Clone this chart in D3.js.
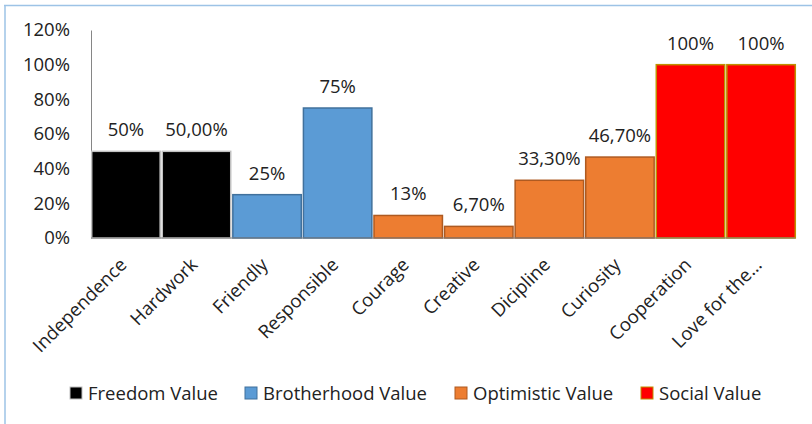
<!DOCTYPE html>
<html>
<head>
<meta charset="utf-8">
<script src="https://cdn.jsdelivr.net/npm/d3@7"></script>
<style>
  body { margin: 0; background: #fff; }
  svg { display: block; font-family: "Open Sans", Lato, sans-serif; }
</style>
</head>
<body>
<svg width="812" height="424"></svg>
<script>
var categories = ['Independence', 'Hardwork', 'Friendly', 'Responsible', 'Courage', 'Creative', 'Dicipline', 'Curiosity', 'Cooperation', 'Love for the...']
var values = [50, 50, 25, 75, 13, 6.7, 33.3, 46.7, 100, 100]
var valueLabels = ['50%', '50,00%', '25%', '75%', '13%', '6,70%', '33,30%', '46,70%', '100%', '100%']
var groups = ['Freedom Value', 'Freedom Value', 'Brotherhood Value', 'Brotherhood Value', 'Optimistic Value', 'Optimistic Value', 'Optimistic Value', 'Optimistic Value', 'Social Value', 'Social Value']
var seriesNames = ['Freedom Value', 'Brotherhood Value', 'Optimistic Value', 'Social Value']
var yTicks = [0, 20, 40, 60, 80, 100, 120]

var svg = d3.select('svg')
var margin = ({top: 30, right: 16, bottom: 186, left: 91})
var width = 812, height = 424
var font = '"Open Sans", sans-serif'
var fs = '18.5px'

var x = d3.scaleBand()
    .domain(d3.range(categories.length))
    .range([margin.left, width - margin.right])
    .paddingInner(0.03)
    .paddingOuter(0.01)

var y = d3.scaleLinear()
    .domain([0, 120])
    .range([238, 30])

var fill = d3.scaleOrdinal().domain(seriesNames).range(['#000000', '#5b9bd5', '#ed7d31', '#ff0000'])
var stroke = d3.scaleOrdinal().domain(seriesNames).range(['#c0c0c0', '#41719c', '#ae5a21', '#bf9000'])

// frame (light blue border at top and left)
svg.append('line').attr('x1', 4).attr('x2', width).attr('y1', 5.5).attr('y2', 5.5)
    .attr('stroke', '#9dc3e6').attr('stroke-width', 1.5)
svg.append('line').attr('x1', 5).attr('x2', 5).attr('y1', 5).attr('y2', height)
    .attr('stroke', '#9dc3e6').attr('stroke-width', 1.5)

// y axis
svg.append('g')
    .attr('transform', `translate(${margin.left},0)`)
    .call(d3.axisLeft(y).tickValues(yTicks).tickFormat(d => d + '%').tickSize(0).tickPadding(21))
    .call(g => g.select('.domain').attr('stroke', '#868686'))
    .call(g => g.selectAll('text').attr('font-size', fs).attr('fill', '#222').attr('font-family', font))

// bars
svg.append('g').selectAll('rect')
    .data(values)
    .enter().append('rect')
        .attr('x', (d, i) => x(i))
        .attr('y', d => y(d))
        .attr('width', x.bandwidth())
        .attr('height', d => y(0) - y(d))
        .attr('fill', (d, i) => fill(groups[i]))
        .attr('stroke', (d, i) => stroke(groups[i]))
        .attr('stroke-width', 1.5)

// x axis line
svg.append('line')
    .attr('x1', margin.left).attr('x2', x(categories.length - 1) + x.bandwidth())
    .attr('y1', y(0)).attr('y2', y(0))
    .attr('stroke', '#7f7f7f').attr('stroke-width', 1)

// value labels
svg.append('g').selectAll('text')
    .data(values)
    .enter().append('text')
        .attr('x', (d, i) => x(i) + x.bandwidth() / 2)
        .attr('y', d => y(d) - 15)
        .attr('text-anchor', 'middle')
        .attr('font-size', fs)
        .attr('fill', '#222')
        .text((d, i) => valueLabels[i])

// category labels, rotated
svg.append('g').selectAll('text')
    .data(categories)
    .enter().append('text')
        .attr('transform', (d, i) => `translate(${x(i) + x.bandwidth() / 2 + 2},${y(0) + 28}) rotate(-45)`)
        .attr('text-anchor', 'end')
        .attr('font-size', fs)
        .attr('fill', '#222')
        .text(d => d)

// legend
var legendX = [70, 245, 455, 641]
var legend = svg.append('g').selectAll('g')
    .data(seriesNames)
    .enter().append('g')
        .attr('transform', (d, i) => `translate(${legendX[i]},387)`)
legend.append('rect')
    .attr('width', 12).attr('height', 12)
    .attr('fill', d => fill(d))
    .attr('stroke', d => stroke(d))
    .attr('stroke-width', 1)
legend.append('text')
    .attr('x', 18).attr('y', 12.5)
    .attr('font-size', fs)
    .attr('fill', '#222')
    .text(d => d)
</script>
</body>
</html>
